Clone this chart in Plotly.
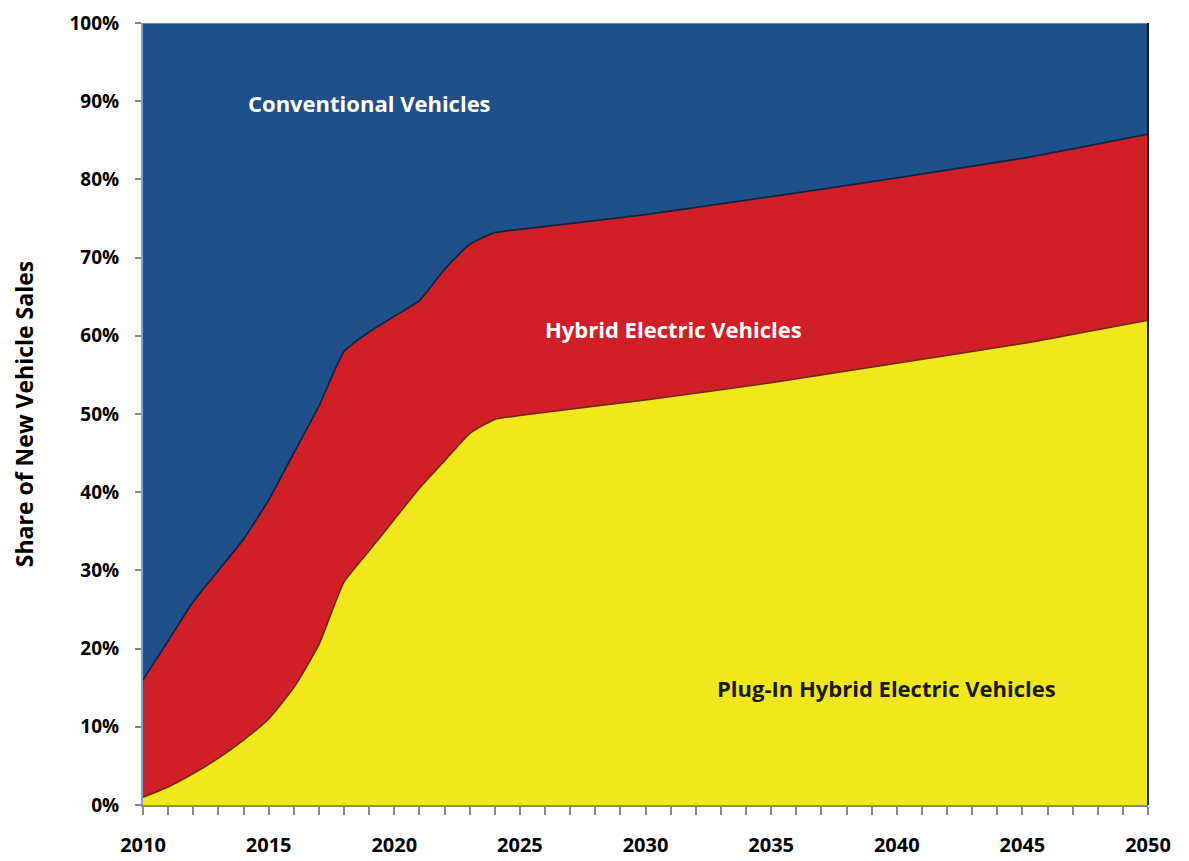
import plotly.graph_objects as go

years = [2010, 2011, 2012, 2013, 2014, 2015, 2016, 2017, 2018, 2019, 2020, 2021, 2022, 2023, 2024,
         2025, 2030, 2035, 2040, 2045, 2050]
phev = [1, 2.3, 4, 6, 8.3, 11, 15, 20.5, 28.5, 32.5, 36.5, 40.5, 44, 47.5, 49.3,
        49.8, 51.8, 54, 56.5, 59, 62]
hev = [15, 18.7, 22, 24, 25.7, 28, 30, 30.5, 29.5, 28, 26, 24, 24.5, 24.2, 23.9,
       23.8, 23.7, 23.8, 23.7, 23.7, 23.8]
conventional = [84, 79, 74, 70, 66, 61, 55, 49, 42, 39.5, 37.5, 35.5, 31.5, 28.3, 26.8,
                26.4, 24.5, 22.2, 19.8, 17.3, 14.2]

x_tick_vals = [2010, 2015, 2020, 2025, 2030, 2035, 2040, 2045, 2050]
y_tick_vals = [0, 10, 20, 30, 40, 50, 60, 70, 80, 90, 100]
y_tick_text = [f"{v}%" for v in y_tick_vals]

labels = ["Plug-In Hybrid Electric Vehicles", "Hybrid Electric Vehicles", "Conventional Vehicles"]
label_x = [2039.6, 2031.1, 2019.0]
label_y = [14.9, 60.9, 89.8]
label_colors = ["#1a1a1a", "white", "white"]

FONT = "Open Sans"

fig = go.Figure()
fig.add_trace(go.Scatter(x=years, y=phev, stackgroup="one", mode="lines",
                         line=dict(color="#6b2a10", width=1.5, shape="spline", smoothing=0.5),
                         fillcolor="#F0E81C", name=labels[0], hoverinfo="skip"))
fig.add_trace(go.Scatter(x=years, y=hev, stackgroup="one", mode="lines",
                         line=dict(color="#13233f", width=1.8, shape="spline", smoothing=0.5),
                         fillcolor="#D01F27", name=labels[1], hoverinfo="skip"))
fig.add_trace(go.Scatter(x=years, y=conventional, stackgroup="one", mode="lines",
                         line=dict(color="#5a88c0", width=2, shape="spline", smoothing=0.5),
                         fillcolor="#20508A", name=labels[2], hoverinfo="skip"))

for t, xx, yy, c in zip(labels, label_x, label_y, label_colors):
    fig.add_annotation(x=xx, y=yy, text=t, showarrow=False,
                       font=dict(family=FONT, size=22, color=c, weight="bold"))

# plot frame: dark right edge
fig.add_shape(type="line", xref="paper", yref="paper", x0=1, x1=1, y0=0, y1=1,
              line=dict(color="#1a1a1a", width=2))

tick_font = dict(family=FONT, size=19, color="black", weight="bold")
fig.update_layout(
    width=1181, height=853,
    margin=dict(l=135, r=41, t=15, b=56),
    paper_bgcolor="white", plot_bgcolor="white",
    showlegend=False,
    xaxis=dict(range=[2010, 2050], tickvals=x_tick_vals, ticks="outside", ticklen=8,
               tickcolor="#888888", tickwidth=2, showgrid=False, zeroline=False,
               showline=True, linecolor="#8a8a70", linewidth=2,
               minor=dict(dtick=1, ticks="outside", ticklen=8, tickcolor="#888888", tickwidth=2),
               tickfont=dict(family=FONT, size=20, color="black", weight="bold"),
               ticklabelstandoff=13, automargin=False, ticklabeloverflow="allow"),
    yaxis=dict(range=[0, 100], tickvals=y_tick_vals, ticktext=y_tick_text, ticks="outside",
               ticklen=6, tickcolor="#888888", tickwidth=2, showgrid=False, zeroline=False,
               showline=True, linecolor="#8aa0c0", linewidth=2,
               tickfont=tick_font, ticklabelstandoff=12, automargin=False,
               ticklabeloverflow="allow",
               title=dict(text="Share of New Vehicle Sales", standoff=42,
                          font=dict(family=FONT, size=23, color="black", weight="bold"))),
)

fig.write_html("out.html")
